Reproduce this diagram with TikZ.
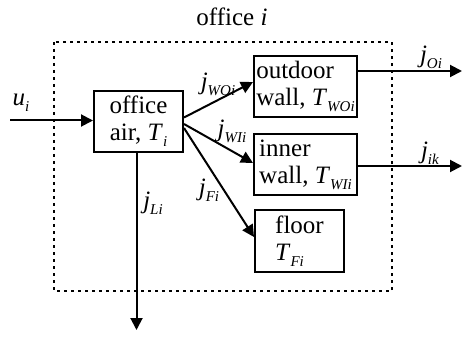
\documentclass[tikz,border=0pt]{standalone}
\usepackage{fontspec}
\setmainfont{Liberation Serif}
\usetikzlibrary{arrows.meta}
\newcommand\vsub[2]{\textit{#1}\raisebox{-0.5ex}{\fontsize{15}{15}\selectfont\textit{#2}}}
\begin{document}
\begin{tikzpicture}[x=1pt,y=-1pt,
  box/.style={draw,line width=2pt,minimum width=#1,inner sep=0pt,font=\fontsize{25}{27}\selectfont},
  flow/.style={line width=2pt,-{Triangle[length=12pt,width=12pt]}},
  lbl/.style={inner sep=0pt,font=\fontsize{25}{27}\selectfont}]
\useasboundingbox (0,0) rectangle (464,337);
\node[lbl] (title) at (232,17) {office \textit{i}};
\draw[line width=2pt,dash pattern=on 3pt off 4pt] (54,42) rectangle (392,291);
\node[box=89pt,minimum height=61pt,align=center] (office) at (138.5,121.5) {office\\air, \vsub{T}{i}};
\node[box=103pt,minimum height=61pt,align=left] (outdoor) at (305.5,86.5) {outdoor\\wall, \vsub{T}{WOi}};
\node[box=103pt,minimum height=61pt,align=left] (inner) at (305.5,164.5) {inner\\wall, \vsub{T}{WIi}};
\node[box=89pt,minimum height=62pt,align=left] (floor) at (299.5,241) {floor\\\vsub{T}{Fi}};
\coordinate (uin) at (10,120.5);
\coordinate (oout) at (462,71);
\coordinate (iout) at (462,166);
\coordinate (lout) at (136.5,330);
\draw[flow] (uin) -- ([yshift=1pt]office.west);
\draw[flow] ([yshift=4pt]office.east) -- ([yshift=4.5pt]outdoor.west);
\draw[flow] ([yshift=-2.5pt]office.east) -- ([yshift=1.5pt]inner.west);
\draw[flow] ([yshift=-6.5pt]office.east) -- ([yshift=4pt]floor.west);
\draw[flow] ([yshift=15.5pt]outdoor.east) -- (oout);
\draw[flow] ([yshift=-1.5pt]inner.east) -- (iout);
\draw[flow] ([xshift=-2pt]office.south) -- (lout);
\node[lbl] (lu) at (21,103) {\vsub{u}{i}};
\node[lbl] (lwo) at (218,84) {\vsub{j}{WOi}};
\node[lbl] (lwi) at (232,131) {\vsub{j}{WIi}};
\node[lbl] (lf) at (209,190) {\vsub{j}{Fi}};
\node[lbl] (ll) at (153,203) {\vsub{j}{Li}};
\node[lbl] (lo) at (431,57) {\vsub{j}{Oi}};
\node[lbl] (lik) at (430,153) {\vsub{j}{ik}};
\end{tikzpicture}
\end{document}
